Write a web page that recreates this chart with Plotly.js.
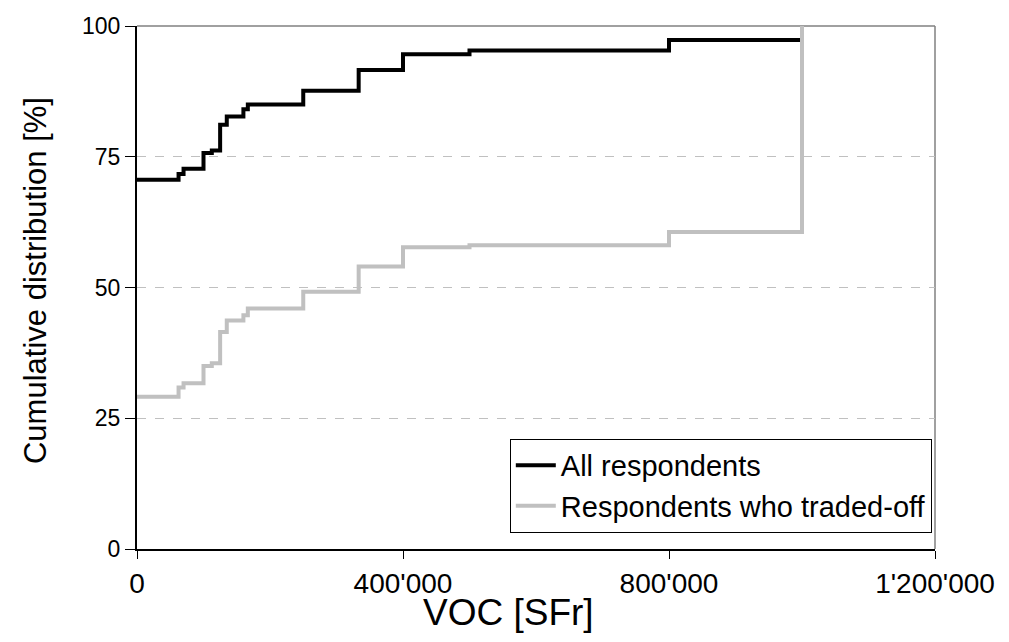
<!DOCTYPE html>
<html>
<head>
<meta charset="utf-8">
<script src="https://cdn.plot.ly/plotly-3.0.1.min.js"></script>
<style>html,body{margin:0;padding:0;background:#fff;}#chart{width:1009px;height:642px;}</style>
</head>
<body>
<div id="chart"></div>
<script>
const voc = [0, 62500, 70000, 100000, 112500, 125000, 135000, 160000, 166667, 250000, 333333, 400000, 500000, 800000, 1000000];
const allRespondents = [70.6, 71.7, 72.7, 75.7, 76.2, 81.1, 82.7, 84.1, 85.0, 87.6, 91.6, 94.6, 95.3, 97.3, 97.3];
const tradedOff = [29.1, 30.9, 31.7, 35.0, 35.5, 41.5, 43.7, 44.7, 46.0, 49.2, 54.0, 57.7, 58.1, 60.6, 100];
const seriesNames = ['All respondents', 'Respondents who traded-off'];
const xTickVals = [0, 400000, 800000, 1200000];
const xTickText = ['0', "400'000", "800'000", "1'200'000"];
const yTickVals = [0, 25, 50, 75, 100];
const xTitle = 'VOC [SFr]';
const yTitle = 'Cumulative distribution [%]';

const font = 'Liberation Sans, Arial, sans-serif';
const traces = [
  {x: voc, y: allRespondents, name: seriesNames[0], mode: 'lines', line: {shape: 'hv', color: '#000000', width: 4}},
  {x: voc, y: tradedOff, name: seriesNames[1], mode: 'lines', line: {shape: 'hv', color: '#c0c0c0', width: 4}}
];
const layout = {
  width: 1009, height: 642,
  margin: {l: 137, r: 74, t: 26, b: 93},
  paper_bgcolor: '#fff', plot_bgcolor: '#fff',
  font: {family: font, color: '#000'},
  showlegend: true,
  legend: {x: 0.996, y: 0.031, xanchor: 'right', yanchor: 'bottom', bordercolor: '#000', borderwidth: 1, bgcolor: '#fff',
           font: {size: 29, family: font}, tracegroupgap: 0, itemwidth: 40},
  xaxis: {range: [0, 1200000], tickvals: xTickVals, ticktext: xTickText, ticks: 'outside', ticklen: 8, tickcolor: '#000',
          showline: true, linecolor: '#000', linewidth: 2, showgrid: false, zeroline: false,
          tickfont: {size: 28, family: font}},
  yaxis: {range: [0, 100], tickvals: yTickVals, ticks: 'outside', ticklen: 10, tickcolor: '#000',
          showline: true, linecolor: '#000', linewidth: 2, showgrid: true, gridcolor: '#c0c0c0', griddash: 'dash', gridwidth: 1,
          zeroline: false, tickfont: {size: 23, family: font}},
  annotations: [
    {text: xTitle, xref: 'paper', yref: 'paper', x: 0.465, y: -0.122, xanchor: 'center', yanchor: 'middle', showarrow: false,
     font: {size: 37, family: font}},
    {text: yTitle, xref: 'paper', yref: 'paper', x: -0.128, y: 0.514, xanchor: 'center', yanchor: 'middle', showarrow: false,
     textangle: -90, font: {size: 31, family: font}}
  ],
  shapes: [
    {type: 'line', xref: 'paper', yref: 'paper', x0: 0, x1: 1, y0: 1, y1: 1, line: {color: '#808080', width: 1.5}, layer: 'below'},
    {type: 'line', xref: 'paper', yref: 'paper', x0: 1, x1: 1, y0: 0, y1: 1, line: {color: '#808080', width: 1.5}, layer: 'below'}
  ]
};
Plotly.newPlot('chart', traces, layout, {displayModeBar: false, staticPlot: true});
</script>
</body>
</html>
